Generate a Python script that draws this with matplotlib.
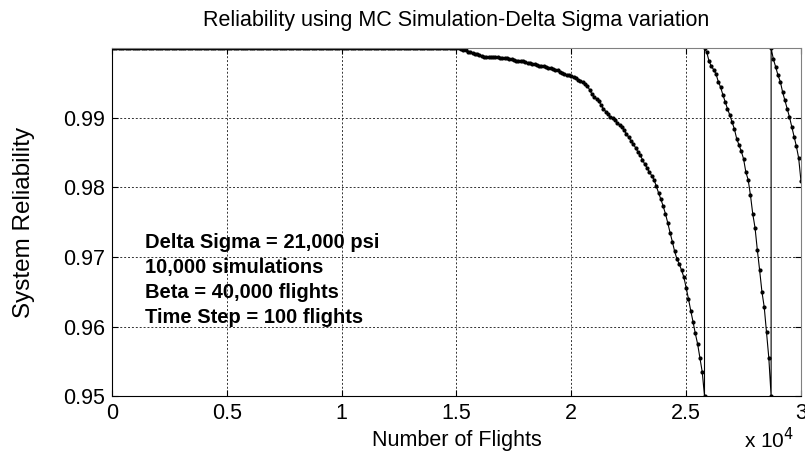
import numpy as np
import matplotlib
matplotlib.use("Agg")
import matplotlib.pyplot as plt
from matplotlib.ticker import FuncFormatter

plt.rcParams['font.family'] = ['Liberation Sans', 'DejaVu Sans']

# flights step of 100, reliability
step = 100

# 0 .. 15000 : flat at 1.0
flat_vals = [1.0] * 151

# 15100 .. 25800 : first decay
seg1_vals = [
    1.0, 0.99995, 0.9998, 0.9997, 0.9995, 0.9994, 0.9993, 0.9992, 0.9991, 0.9990,
    0.9989, 0.9988, 0.9988, 0.9987, 0.9987, 0.9987, 0.9987, 0.9987, 0.9986, 0.9986,
    0.9986, 0.9986, 0.9985, 0.9984, 0.9983, 0.9982, 0.9982, 0.9981, 0.9981, 0.9980,
    0.9979, 0.9979, 0.9978, 0.9977, 0.9976, 0.9975, 0.9975, 0.9974, 0.9973, 0.9972,
    0.9971, 0.9970, 0.9969, 0.9968, 0.9966, 0.9965, 0.9963, 0.9962, 0.9961, 0.9960,
    0.9959, 0.9957, 0.9955, 0.9953, 0.9951, 0.9949, 0.9946, 0.9940, 0.9934, 0.9930,
    0.9927, 0.9924, 0.9918, 0.9913, 0.9909, 0.9905, 0.9901, 0.9899, 0.9897, 0.9893,
    0.9890, 0.9887, 0.9882, 0.9877, 0.9872, 0.9867, 0.9862, 0.9857, 0.9851, 0.9846,
    0.9840, 0.9833, 0.9828, 0.9822, 0.9817, 0.9811, 0.9802, 0.9792, 0.9783, 0.9773,
    0.9762, 0.9749, 0.9735, 0.9722, 0.9708, 0.9697, 0.9690, 0.9681, 0.9671, 0.9656,
    0.9640, 0.9623, 0.9607, 0.9590, 0.9575, 0.9555, 0.9535, 0.9500,
]

# 25800 .. 28700 : second decay
seg2_vals = [
    1.0, 0.9994, 0.9981, 0.9974, 0.9969, 0.9963, 0.9952, 0.9944, 0.9933, 0.9923,
    0.9913, 0.9904, 0.9894, 0.9884, 0.9870, 0.9861, 0.9852, 0.9841, 0.9822, 0.9811,
    0.9789, 0.9762, 0.9742, 0.9710, 0.9681, 0.9650, 0.9628, 0.9592, 0.9555, 0.9500,
]

# 28700 .. 30000 : third decay
seg3_vals = [
    1.0, 0.9984, 0.9973, 0.9961, 0.9952, 0.9937, 0.9925, 0.9913, 0.9901, 0.9887,
    0.9873, 0.9859, 0.9842, 0.9809,
]

seg_starts = [0, 15100, 25800, 28700]

xs, ys = [], []
for start, vals in zip(seg_starts, [flat_vals, seg1_vals, seg2_vals, seg3_vals]):
    xs.extend(start + step * np.arange(len(vals)))
    ys.extend(vals)

notes = ["Delta Sigma = 21,000 psi", "10,000 simulations",
         "Beta = 40,000 flights", "Time Step = 100 flights"]

fig = plt.figure(figsize=(8.05, 4.59), dpi=100)
ax = fig.add_axes([0.139, 0.137, 0.856, 0.758])

ax.plot(xs, ys, color='black', lw=0.8, marker='.', ms=4)

ax.set_xlim(0, 30000)
ax.set_ylim(0.95, 1.0)
ax.set_xticks(np.arange(0, 30001, 5000))
ax.set_yticks([0.95, 0.96, 0.97, 0.98, 0.99])
ax.xaxis.set_major_formatter(FuncFormatter(lambda v, p: '%g' % (v / 1e4)))
ax.yaxis.set_major_formatter(FuncFormatter(lambda v, p: '%.2f' % v))
ax.tick_params(direction='in', top=True, right=True, labelsize=15.5, length=4, pad=5)
ax.grid(True, color='#333333', linestyle=(0, (2, 2)), lw=0.7)
for side in ['top', 'right']:
    ax.spines[side].set_color('#808080')

ax.set_title('Reliability using MC Simulation-Delta Sigma variation', fontsize=15.5, pad=16)
ax.set_xlabel('Number of Flights', fontsize=15.5, labelpad=4)
ax.set_ylabel('System Reliability', fontsize=17.5, labelpad=20)
ax.text(0.99, -0.125, r'x 10$^4$', transform=ax.transAxes, ha='right', va='center', fontsize=15)

ax.text(0.048, 0.47, '\n'.join(notes), transform=ax.transAxes, ha='left', va='top',
        fontsize=14.5, fontweight='bold', linespacing=1.4)

fig.savefig('out.png', dpi=100)
